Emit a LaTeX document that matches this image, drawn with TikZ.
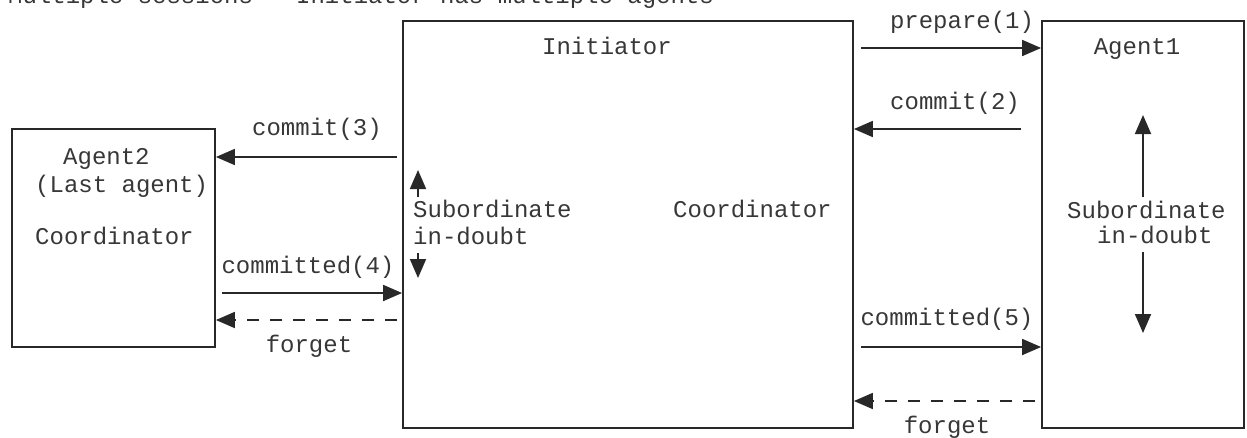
\documentclass[tikz,border=0pt]{standalone}
\usepackage{fontspec}
\setmonofont{Liberation Mono}
\usetikzlibrary{arrows.meta}
\definecolor{ink}{RGB}{40,40,40}
\definecolor{txt}{RGB}{55,55,55}
\tikzset{
  box/.style={draw=ink, line width=1.8pt, inner sep=0pt},
  lbl/.style={inner sep=0pt, text=txt, font=\ttfamily\fontsize{24pt}{28pt}\selectfont},
  arr/.style={draw=ink, line width=1.8pt, -{Triangle[length=19pt,width=16pt]}},
  darr/.style={arr, dash pattern=on 12pt off 11pt},
}
\begin{document}
\begin{tikzpicture}[x=1pt, y=-1pt]
\useasboundingbox (0,0) rectangle (1247,437);
% title (cut off at top edge, as in the reference)
\node[lbl, anchor=base west] (title) at (8,3) {Multiple sessions - Initiator has multiple agents};
% boxes
\node[box, minimum width=203pt, minimum height=218pt] (agent2) at (113.5,238) {};
\node[box, minimum width=450pt, minimum height=407pt] (init) at (628,224.5) {};
\node[box, minimum width=202pt, minimum height=407pt] (agent1) at (1143,224.5) {};
% agent2 texts
\node[lbl, anchor=base west] (a2a) at (63,164) {Agent2};
\node[lbl, anchor=base west] (a2b) at (35,192) {(Last agent)};
\node[lbl, anchor=base west] (a2c) at (35,244) {Coordinator};
% initiator texts
\node[lbl, anchor=base] (itit) at (607,54) {Initiator};
\node[lbl, anchor=base west] (isub) at (413,217) {Subordinate};
\node[lbl, anchor=base west] (idbt) at (413,244) {in-doubt};
\node[lbl, anchor=base west] (icoord) at (673,217) {Coordinator};
% agent1 texts
\node[lbl, anchor=base] (a1t) at (1137,54) {Agent1};
\node[lbl, anchor=base west] (a1sub) at (1067,218) {Subordinate};
\node[lbl, anchor=base west] (a1dbt) at (1097,243) {in-doubt};
% in-doubt arrows inside initiator
\coordinate (iu0) at (418,197);
\coordinate (iu1) at (418,170);
\coordinate (id0) at (418,253);
\coordinate (id1) at (418,278);
\draw[arr] (iu0) -- (iu1);
\draw[arr] (id0) -- (id1);
% in-doubt arrows inside agent1
\coordinate (au0) at (1143,197);
\coordinate (au1) at (1143,115);
\coordinate (ad0) at (1143,252);
\coordinate (ad1) at (1143,333);
\draw[arr] (au0) -- (au1);
\draw[arr] (ad0) -- (ad1);
% right-side flows
\coordinate (s1) at (861,48);
\coordinate (s2) at (1021,129);
\coordinate (s5) at (861,347);
\coordinate (sf) at (1035,401);
\draw[arr] (s1) -- (s1 -| agent1.west);
\draw[arr] (s2) -- (s2 -| init.east);
\draw[arr] (s5) -- (s5 -| agent1.west);
\draw[darr] (sf) -- (sf -| init.east);
\node[lbl, anchor=base] (lp1) at (962,28) {prepare(1)};
\node[lbl, anchor=base] (lc2) at (955,109) {commit(2)};
\node[lbl, anchor=base] (lc5) at (947,325) {committed(5)};
\node[lbl, anchor=base] (lfr) at (947,433) {forget};
% left-side flows
\coordinate (s3) at (397,157);
\coordinate (s4) at (222,293);
\coordinate (sg) at (397,320);
\draw[arr] (s3) -- (s3 -| agent2.east);
\draw[arr] (s4) -- (s4 -| init.west);
\draw[darr] (sg) -- (sg -| agent2.east);
\node[lbl, anchor=base] (lc3) at (317,135) {commit(3)};
\node[lbl, anchor=base] (lc4) at (308,273) {committed(4)};
\node[lbl, anchor=base] (lfl) at (309,352) {forget};
\end{tikzpicture}
\end{document}
